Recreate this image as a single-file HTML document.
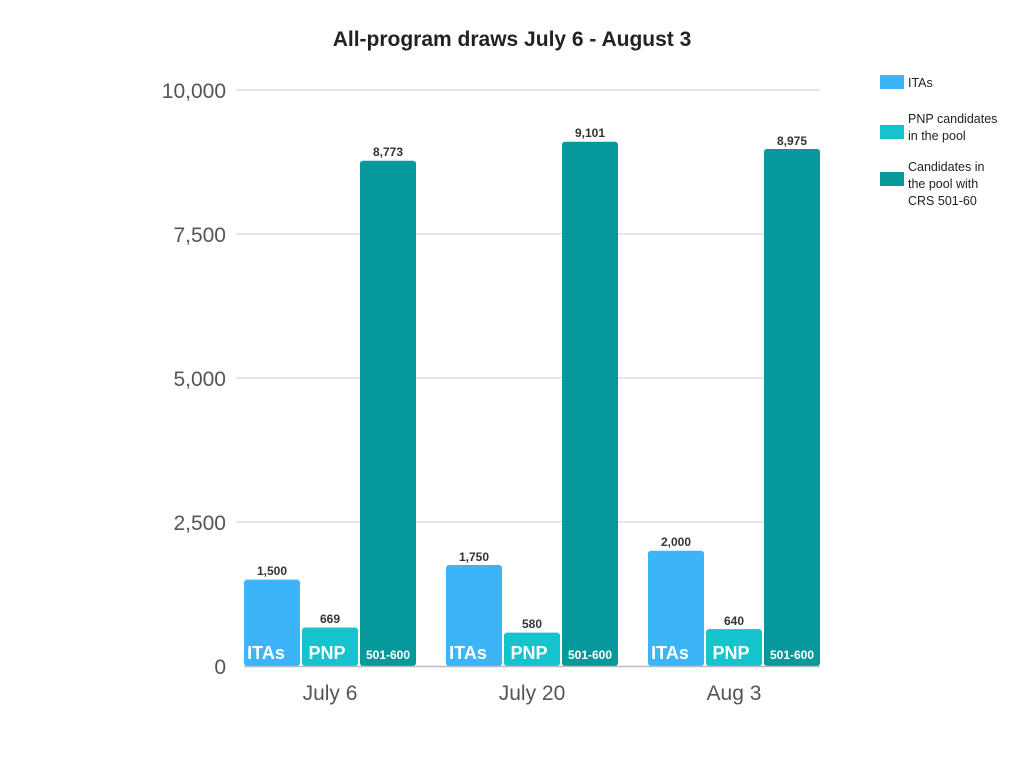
<!DOCTYPE html>
<html><head><meta charset="utf-8"><style>
body{margin:0;background:#fff}
svg{display:block;font-family:"Liberation Sans",sans-serif}
</style></head><body>
<svg width="1024" height="768" viewBox="0 0 1024 768">
<text x="512" y="46" text-anchor="middle" font-size="21" font-weight="bold" fill="#222">All-program draws July 6 - August 3</text>
<g stroke="#ddd" stroke-width="1.5">
<line x1="236" y1="90" x2="820" y2="90"/><line x1="236" y1="234" x2="820" y2="234"/>
<line x1="236" y1="378" x2="820" y2="378"/><line x1="236" y1="522" x2="820" y2="522"/>
</g>
<g font-size="21" fill="#555" text-anchor="end">
<text x="226" y="98">10,000</text><text x="226" y="242">7,500</text><text x="226" y="386">5,000</text><text x="226" y="530">2,500</text><text x="226" y="674">0</text>
</g>
<g font-size="12" font-weight="bold" fill="#333" text-anchor="middle">
<rect x="244" y="579.6" width="56" height="86.4" rx="3" fill="#3bb4f8"/><text x="272" y="575">1,500</text>
<rect x="302" y="627.5" width="56" height="38.5" rx="3" fill="#14c3cb"/><text x="330" y="623">669</text>
<rect x="360" y="160.7" width="56" height="505.3" rx="3" fill="#06989b"/><text x="388" y="156">8,773</text>
<rect x="446" y="565" width="56" height="101" rx="3" fill="#3bb4f8"/><text x="474" y="561">1,750</text>
<rect x="504" y="632.6" width="56" height="33.4" rx="3" fill="#14c3cb"/><text x="532" y="628">580</text>
<rect x="562" y="141.8" width="56" height="524.2" rx="3" fill="#06989b"/><text x="590" y="137">9,101</text>
<rect x="648" y="550.8" width="56" height="115.2" rx="3" fill="#3bb4f8"/><text x="676" y="546">2,000</text>
<rect x="706" y="629.1" width="56" height="36.9" rx="3" fill="#14c3cb"/><text x="734" y="625">640</text>
<rect x="764" y="149" width="56" height="517" rx="3" fill="#06989b"/><text x="792" y="145">8,975</text>
</g>
<g fill="#fff" font-weight="bold" text-anchor="middle">
<text x="266" y="659" font-size="18">ITAs</text><text x="327" y="659" font-size="18">PNP</text><text x="388" y="659" font-size="12">501-600</text>
<text x="468" y="659" font-size="18">ITAs</text><text x="529" y="659" font-size="18">PNP</text><text x="590" y="659" font-size="12">501-600</text>
<text x="670" y="659" font-size="18">ITAs</text><text x="731" y="659" font-size="18">PNP</text><text x="792" y="659" font-size="12">501-600</text>
</g>
<line x1="244" y1="666.5" x2="820" y2="666.5" stroke="#bbb" stroke-width="1.5"/>
<g font-size="21" fill="#555" text-anchor="middle">
<text x="330" y="700">July 6</text><text x="532" y="700">July 20</text><text x="734" y="700">Aug 3</text>
</g>
<rect x="880" y="75" width="24" height="14" fill="#3bb4f8"/>
<rect x="880" y="125" width="24" height="14" fill="#14c3cb"/>
<rect x="880" y="172" width="24" height="14" fill="#06989b"/>
<g font-size="12.5" fill="#222">
<text x="908" y="87">ITAs</text>
<text x="908" y="123">PNP candidates</text><text x="908" y="140">in the pool</text>
<text x="908" y="171">Candidates in</text><text x="908" y="188">the pool with</text><text x="908" y="205">CRS 501-60</text>
</g>
</svg>
</body></html>
